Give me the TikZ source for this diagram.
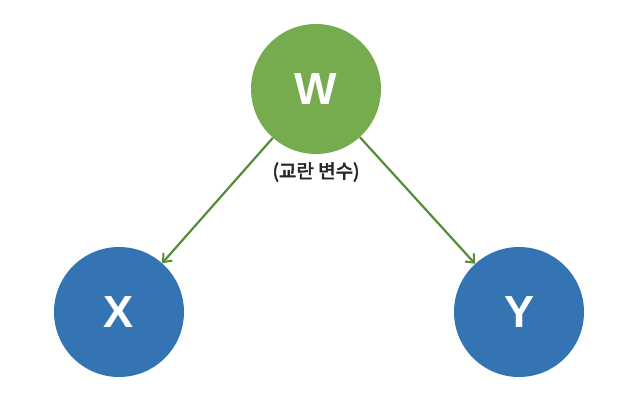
\documentclass[tikz,border=0pt]{standalone}
\usepackage{fontspec}
\setmainfont{Liberation Sans}
\newfontfamily\kr{Noto Sans CJK KR}[AutoFakeBold=3]
\usetikzlibrary{arrows.meta}
\definecolor{wgreen}{HTML}{76AC4E}
\definecolor{lgreen}{HTML}{578C37}
\definecolor{nblue}{HTML}{3574B2}
\tikzset{
  varnode/.style={circle, minimum size=130pt, inner sep=0pt, text=white, font=\fontsize{45}{45}\selectfont\bfseries},
  arr/.style={draw=lgreen, line width=2.2pt, -{Straight Barb[length=7pt,width=12pt,line width=2pt]}}
}
\begin{document}
\begin{tikzpicture}[x=1pt,y=-1pt]
\useasboundingbox (0,0) rectangle (620,404);
\node[varnode, fill=wgreen] (w) at (316,89) {W};
\node[varnode, fill=nblue] (x) at (119,312) {X};
\node[varnode, fill=nblue] (y) at (519,312) {Y};
\node[font=\kr\bfseries\fontsize{19}{20}\selectfont, text=black!85] (lab) at (316,172) {(교란 변수)};
\draw[arr] (w) -- (x);
\draw[arr] (w) -- (y);
\end{tikzpicture}
\end{document}
